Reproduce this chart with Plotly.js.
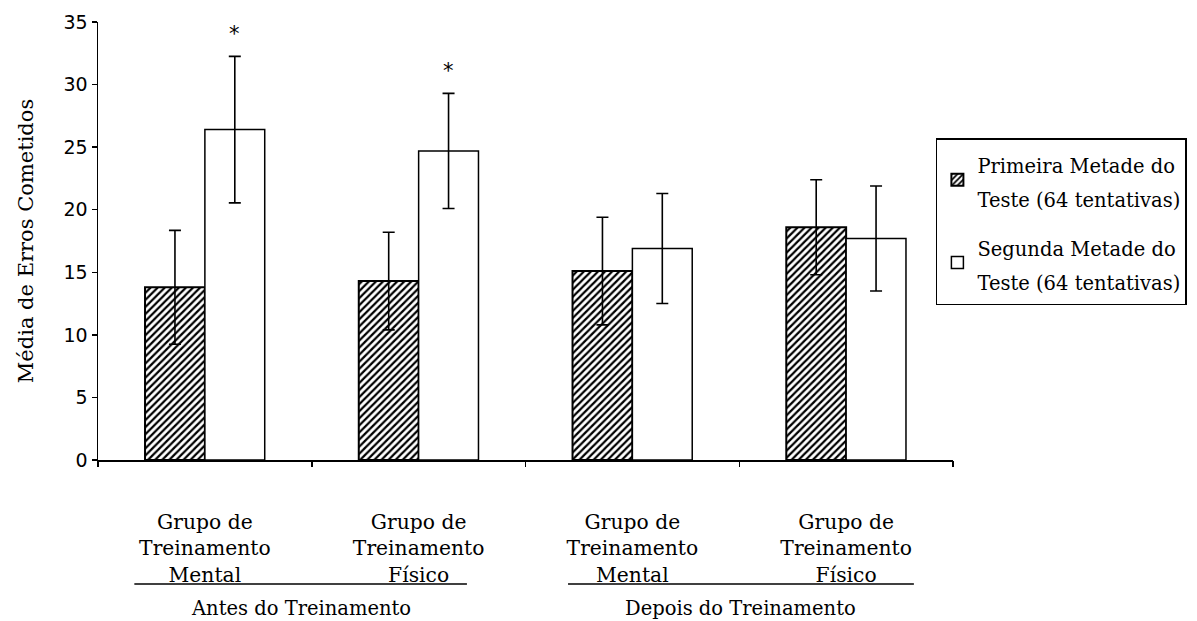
<!DOCTYPE html>
<html><head><meta charset="utf-8">
<script src="https://cdn.plot.ly/plotly-3.0.1.min.js"></script>
<style>html,body{margin:0;padding:0;background:#fff}</style>
</head><body><div id="chart" style="width:1197px;height:621px"></div>
<script>
const categoryPos = [0, 1, 2, 3];
const categoryLabels = [
  "Grupo de<br>Treinamento<br>Mental",
  "Grupo de<br>Treinamento<br>Físico",
  "Grupo de<br>Treinamento<br>Mental",
  "Grupo de<br>Treinamento<br>Físico"
];
const phaseLabels = ["Antes do Treinamento", "Depois do Treinamento"];
const seriesNames = ["Primeira Metade do<br>Teste (64 tentativas)", "Segunda Metade do<br>Teste (64 tentativas)"];
const primeiraMean = [13.8, 14.3, 15.1, 18.6];
const primeiraErr  = [4.55, 3.9, 4.3, 3.8];
const segundaMean  = [26.4, 24.7, 16.9, 17.7];
const segundaErr   = [5.85, 4.6, 4.4, 4.2];
const significance = ["*", "*", "", ""];
const yTicks = [0, 5, 10, 15, 20, 25, 30, 35];

const serif = "DejaVu Serif, Liberation Serif, serif";
const bargap = 0.44;
const barW = (1 - bargap) / 2;

const legendText = s => '<span style="font-size:19.5px">' + s + '</span>';

const traces = [
  {
    type: 'bar', name: legendText(seriesNames[0]), x: categoryPos, y: primeiraMean,
    legendgroup: 'a',
    marker: {color: '#ffffff', line: {color: '#000', width: 2},
             pattern: {shape: '/', fgcolor: '#000', bgcolor: '#fff', size: 5, solidity: 0.45}},
    error_y: {type: 'data', array: primeiraErr, visible: true, color: '#000', thickness: 1.6, width: 6}
  },
  {
    type: 'bar', name: legendText(seriesNames[1]), x: categoryPos, y: segundaMean,
    legendgroup: 'b',
    marker: {color: '#ffffff', line: {color: '#000', width: 1.5}},
    error_y: {type: 'data', array: segundaErr, visible: true, color: '#000', thickness: 1.6, width: 6}
  },
  {
    type: 'scatter', mode: 'markers', x: [-0.5, 0.5, 1.5, 2.5, 3.5], y: [0, 0, 0, 0, 0],
    xaxis: 'x2', yaxis: 'y', showlegend: false, hoverinfo: 'skip',
    marker: {opacity: 0}
  }
];

const annotations = [];
significance.forEach((s, i) => {
  if (s) annotations.push({
    x: categoryPos[i] + barW / 2, y: segundaMean[i] + segundaErr[i], xref: 'x', yref: 'y',
    text: s, showarrow: false, yanchor: 'middle', yshift: 22,
    font: {family: 'DejaVu Sans, Arial, sans-serif', size: 21, color: '#000'}
  });
});
const phaseCenters = [0.448, 2.508];
phaseLabels.forEach((p, i) => annotations.push({
  x: phaseCenters[i], y: -0.338, xref: 'x', yref: 'paper', text: p, showarrow: false,
  yanchor: 'middle', font: {family: serif, size: 19.5, color: '#000'}
}));

const shapes = [
  {type: 'line', xref: 'x', yref: 'paper', x0: -0.33, x1: 1.226, y0: -0.283, y1: -0.283, line: {color: '#000', width: 1.5}},
  {type: 'line', xref: 'x', yref: 'paper', x0: 1.699, x1: 3.317, y0: -0.283, y1: -0.283, line: {color: '#000', width: 1.5}}
];

const layout = {
  width: 1197, height: 621,
  margin: {l: 98, r: 244, t: 22, b: 161, autoexpand: false},
  paper_bgcolor: '#fff', plot_bgcolor: '#fff',
  barmode: 'group', bargap: bargap, bargroupgap: 0,
  showlegend: true,
  legend: {
    x: 0.98, y: 0.735, xanchor: 'left', yanchor: 'top',
    bordercolor: '#000', borderwidth: 1.5, bgcolor: '#fff',
    font: {family: serif, size: 26, color: '#000'},
    tracegroupgap: 12, traceorder: 'grouped'
  },
  xaxis: {
    range: [-0.5, 3.5], tickmode: 'array', tickvals: categoryPos, ticktext: categoryLabels,
    ticks: '', showgrid: false, zeroline: false, showline: true, linecolor: '#000', linewidth: 1.5,
    tickfont: {family: serif, size: 20.3, color: '#000'}, ticklabelstandoff: 43
  },
  xaxis2: {
    range: [-0.5, 3.5], overlaying: 'x', anchor: 'y', side: 'bottom',
    tickmode: 'array', tickvals: [-0.5, 0.5, 1.5, 2.5, 3.5], ticks: 'outside', ticklen: 6, tickwidth: 1.5,
    tickcolor: '#000', showticklabels: false, showgrid: false, zeroline: false, showline: false
  },
  yaxis: {
    range: [0, 35], tickmode: 'array', tickvals: yTicks, ticks: 'outside', ticklen: 5, tickwidth: 1.5,
    tickcolor: '#000', showgrid: false, zeroline: false, showline: true, linecolor: '#000', linewidth: 1.5,
    tickfont: {family: 'DejaVu Sans, Arial, sans-serif', size: 19, color: '#000'},
    title: {text: 'Média de Erros Cometidos', font: {family: serif, size: 21, color: '#000'}, standoff: 24}
  },
  annotations: annotations,
  shapes: shapes
};

Plotly.newPlot('chart', traces, layout, {displayModeBar: false, staticPlot: true});
</script>
</body></html>
